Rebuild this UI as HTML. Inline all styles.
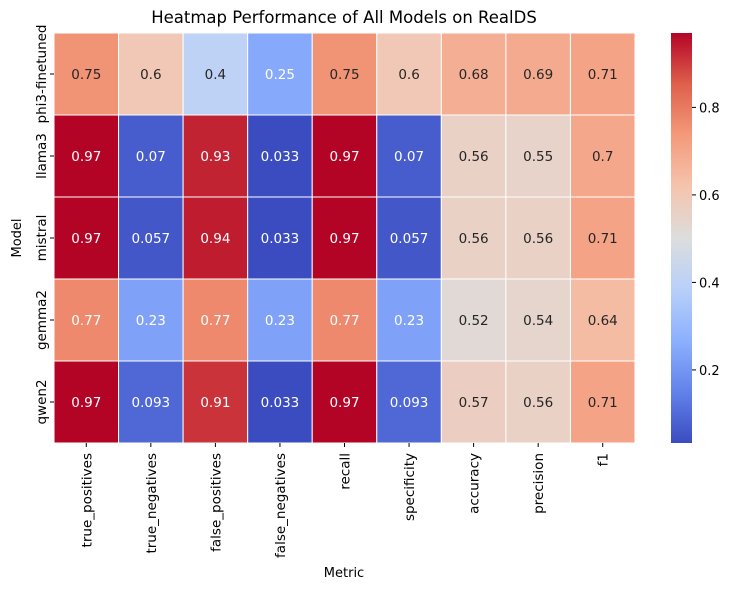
<!DOCTYPE html>
<html><head><meta charset="utf-8"><style>
body{margin:0;background:#fff;font-family:"Liberation Sans","DejaVu Sans",sans-serif}
</style></head><body>
<svg id="chart" width="733" height="590" xmlns="http://www.w3.org/2000/svg" font-family="DejaVu Sans, Liberation Sans, sans-serif">
<defs><linearGradient id="cbg" x1="0" y1="1" x2="0" y2="0"></linearGradient></defs>
<text x="344" y="23" font-size="16.5" text-anchor="middle" fill="#000">Heatmap Performance of All Models on RealDS</text>
<g id="cells"></g>
<g id="xt"></g><g id="yt"></g>
<text x="344" y="577" font-size="13" text-anchor="middle">Metric</text>
<text transform="translate(21,238) rotate(-90)" font-size="13" text-anchor="middle">Model</text>
<rect x="671" y="33" width="21" height="410" fill="url(#cbg)"/>
<g id="cbt"></g>
</svg>
<script>
const models=["phi3-finetuned","llama3","mistral","gemma2","qwen2"];
const metrics=["true_positives","true_negatives","false_positives","false_negatives","recall","specificity","accuracy","precision","f1"];
const rowPhi3=[0.75,0.6,0.4,0.25,0.75,0.6,0.68,0.69,0.71];
const rowLlama3=[0.97,0.07,0.93,0.033,0.97,0.07,0.56,0.55,0.7];
const rowMistral=[0.97,0.057,0.94,0.033,0.97,0.057,0.56,0.56,0.71];
const rowGemma2=[0.77,0.23,0.77,0.23,0.77,0.23,0.52,0.54,0.64];
const rowQwen2=[0.97,0.093,0.91,0.033,0.97,0.093,0.57,0.56,0.71];
const cbTicks=[0.2,0.4,0.6,0.8];
const rows=[rowPhi3,rowLlama3,rowMistral,rowGemma2,rowQwen2];
const all=rows.flat();const vmin=Math.min(...all),vmax=Math.max(...all);
const L=54,T=33,W=581,H=410,cw=W/metrics.length,ch=H/models.length;
const stops=[[59,76,192],[98,130,234],[141,176,254],[184,208,249],[221,221,221],[245,196,173],[244,154,123],[222,96,77],[180,4,38]];
function cmap(t){t=Math.max(0,Math.min(1,t));const p=t*8,i=Math.min(7,Math.floor(p)),f=p-i;const a=stops[i],b=stops[i+1];return a.map((v,k)=>Math.round(v+(b[k]-v)*f));}
function norm(v){return (v-vmin)/(vmax-vmin);}
function lum(c){const l=c.map(x=>{x/=255;return x<=0.03928?x/12.92:Math.pow((x+0.055)/1.055,2.4)});return 0.2126*l[0]+0.7152*l[1]+0.0722*l[2];}
const NS="http://www.w3.org/2000/svg";
function mk(tag,at,parent){const e=document.createElementNS(NS,tag);for(const k in at)e.setAttribute(k,at[k]);parent.appendChild(e);return e;}
const g=document.getElementById('cells');
rows.forEach((r,i)=>r.forEach((v,j)=>{
 const c=cmap(norm(v));
 const rect=mk('rect',{x:L+j*cw,y:T+i*ch,width:cw,height:ch,fill:`rgb(${c})`,stroke:'#fff','stroke-width':1},g);
 
 
 const t=mk('text',{x:L+(j+.5)*cw,y:T+(i+.5)*ch+5,'font-size':13.5,'text-anchor':'middle',fill:lum(c)>0.408?'#262626':'#fff'},g);
 t.textContent=String(v);
 
 
}));
const xt=document.getElementById('xt');
metrics.forEach((m,j)=>{const x=L+(j+.5)*cw;
 mk('line',{x1:x,x2:x,y1:T+H,y2:T+H+4,stroke:'#000'},xt);
 const t=mk('text',{transform:`translate(${x+5},${T+H+10}) rotate(-90)`,'font-size':13.5,'text-anchor':'end'},xt);
 t.textContent=m;
 
 });
const yt=document.getElementById('yt');
models.forEach((m,i)=>{const y=T+(i+.5)*ch;
 mk('line',{x1:L-4,x2:L,y1:y,y2:y,stroke:'#000'},yt);
 const t=mk('text',{transform:`translate(${L-8},${y}) rotate(-90)`,'font-size':13.5,'text-anchor':'middle'},yt);
 t.textContent=m;
 
 });
const grad=document.getElementById('cbg');
for(let k=0;k<=8;k++)mk('stop',{offset:k/8,'stop-color':`rgb(${stops[k]})`},grad);
const cb=document.getElementById('cbt');
cbTicks.forEach(v=>{const y=T+H-norm(v)*H;
 mk('line',{x1:692,x2:696,y1:y,y2:y,stroke:'#000'},cb);
 const t=mk('text',{x:699,y:y+5,'font-size':13},cb);
 t.textContent=v.toFixed(1);
 
 });
</script>
</body></html>
